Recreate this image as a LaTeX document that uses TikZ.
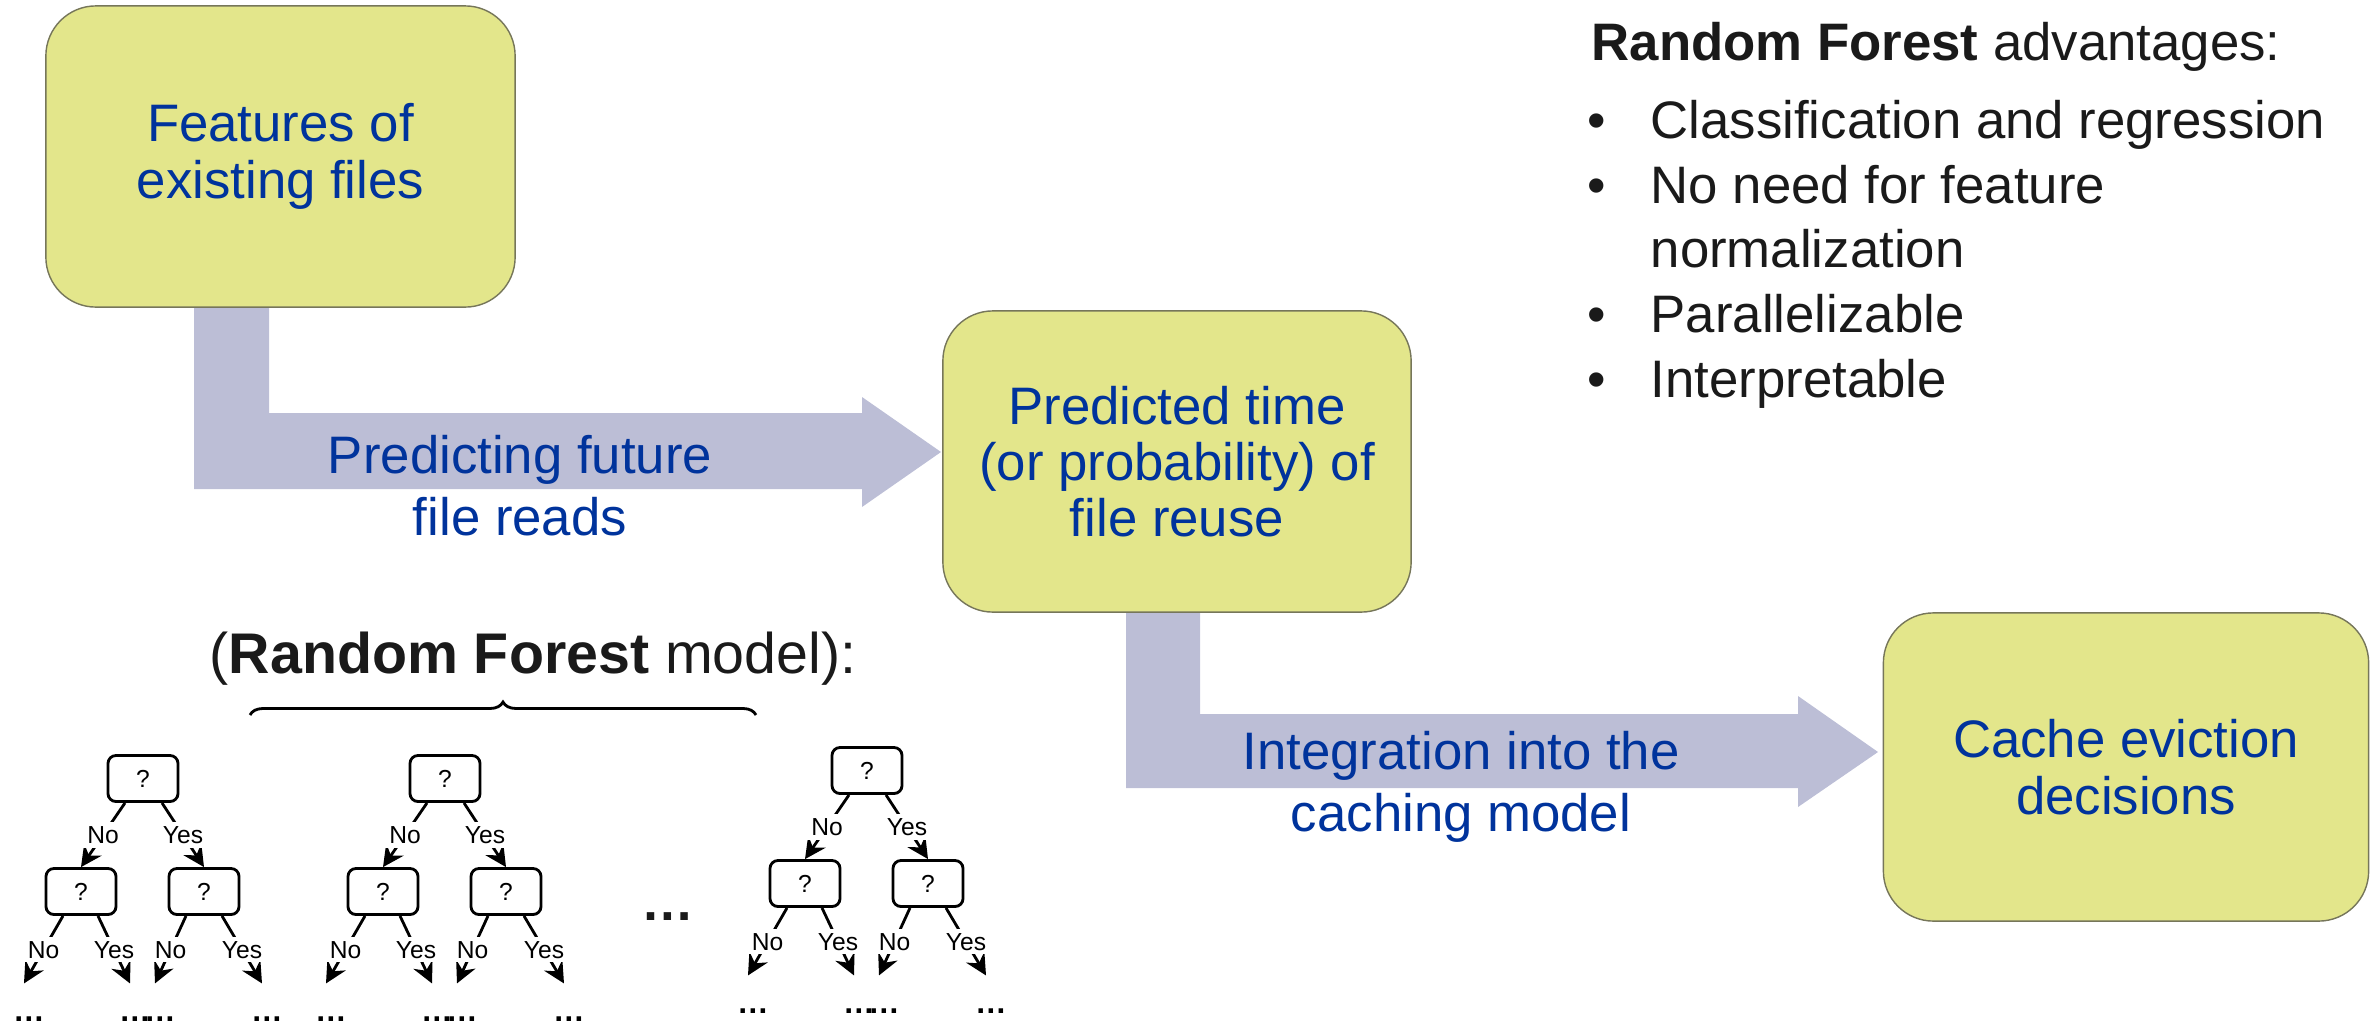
\documentclass[tikz,border=0pt]{standalone}
\usepackage{fontspec}
\setmainfont{Liberation Sans}
\usetikzlibrary{arrows.meta,decorations.pathreplacing,calc}
\definecolor{boxfill}{HTML}{E3E68B}
\definecolor{boxline}{HTML}{76765A}
\definecolor{arrowfill}{HTML}{BCBED6}
\definecolor{bluetext}{HTML}{00339C}
\definecolor{darktext}{HTML}{1A1A1A}
\begin{document}
\begin{tikzpicture}[x=0.01cm,y=-0.01cm,
  bigbox/.style={draw=boxline, line width=0.4pt, fill=boxfill, rounded corners=0.5cm,
    text=bluetext, align=center, font=\fontsize{15}{16}\selectfont, inner sep=0pt},
  arrowlabel/.style={text=bluetext, align=center, font=\fontsize{15}{17.6}\selectfont, inner sep=0pt},
  blockarrow/.style={fill=arrowfill, draw=none},
  plaintext/.style={text=darktext, font=\fontsize{15}{16}\selectfont, inner sep=0pt},
  qbox/.style={draw, line width=0.8pt, rounded corners=0.08cm, minimum width=0.70cm,
    minimum height=0.46cm, inner sep=0pt, font=\fontsize{7}{8}\selectfont},
  yn/.style={fill=white, inner sep=1.2pt, font=\fontsize{7}{8}\selectfont},
  tedge/.style={line width=0.8pt, -{Stealth[length=6pt,width=6pt,inset=2pt]}},
  leafdots/.style={anchor=base, inner sep=0pt, font=\fontsize{9}{10}\selectfont\bfseries}
]
\useasboundingbox (0,0) rectangle (2379,1027);

% block arrows (drawn first, under the boxes)
\fill[blockarrow] (194,300) -- (194,489) -- (862,489) -- (862,507) -- (941,452)
  -- (862,397) -- (862,413) -- (269,413) -- (269,300) -- cycle;
\fill[blockarrow] (1126,605) -- (1126,788) -- (1798,788) -- (1798,807) -- (1878,752)
  -- (1798,696) -- (1798,714) -- (1200,714) -- (1200,605) -- cycle;

% boxes
\node[bigbox, minimum width=4.69cm, minimum height=3.01cm] (b1) at (280.5,156.5) {Features of\\existing files};
\node[bigbox, minimum width=4.68cm, minimum height=3.01cm] (b2) at (1177,461.5) {Predicted time\\(or probability) of\\file reuse};
\node[bigbox, minimum width=4.85cm, minimum height=3.08cm] (b3) at (2126,767) {Cache eviction\\decisions};

% arrow labels
\node[arrowlabel] (l1) at (520,486) {Predicting future\\file reads};
\node[arrowlabel] (l2) at (1461,787) {Integration into the\\caching model};

% advantages list
\node[plaintext, anchor=base west] (adv) at (1591,60) {\textbf{Random Forest} advantages:};
\foreach \y/\txt [count=\i] in {138/Classification and regression, 203/No need for feature, 332/Parallelizable, 397/Interpretable}{
  \node[plaintext, anchor=base] (bul\i) at (1597,\y) {•};
  \node[plaintext, anchor=base west] (item\i) at (1650,\y) {\txt};
}
\node[plaintext, anchor=base west] (item2b) at (1650,267) {normalization};

% random forest caption and brace
\node[plaintext, anchor=base, font=\fontsize{16.3}{17}\selectfont] (rfm) at (533,673) {(\textbf{Random Forest} model):};
\coordinate (brl) at (250,715);
\coordinate (brr) at (756,715);
\draw[line width=0.8pt, decorate, decoration={brace, amplitude=3.7pt}] (brl) -- (brr);

% trees
\foreach \t/\dx/\dy in {1/0/0, 2/302/0, 3/724/-8}{
  \begin{scope}[shift={(\dx,\dy)}]
    \node[qbox] (t\t r) at (143,778.5) {?};
    \node[qbox] (t\t a) at (81,891.5) {?};
    \node[qbox] (t\t b) at (204,891.5) {?};
    \draw[tedge] ($(t\t r.south)+(-18,0)$) -- node[yn]{No} (t\t a.north);
    \draw[tedge] ($(t\t r.south)+(19,0)$) -- node[yn]{Yes} (t\t b.north);
    \coordinate (t\t l1) at ($(t\t a.south)+(-57,67.5)$);
    \coordinate (t\t l2) at ($(t\t a.south)+(49,67.5)$);
    \coordinate (t\t l3) at ($(t\t b.south)+(-49,67.5)$);
    \coordinate (t\t l4) at ($(t\t b.south)+(58,67.5)$);
    \draw[tedge] ($(t\t a.south)+(-18,0)$) -- node[yn]{No} (t\t l1);
    \draw[tedge] ($(t\t a.south)+(17,0)$) -- node[yn]{Yes} (t\t l2);
    \draw[tedge] ($(t\t b.south)+(-18,0)$) -- node[yn]{No} (t\t l3);
    \draw[tedge] ($(t\t b.south)+(18,0)$) -- node[yn]{Yes} (t\t l4);
    \foreach \k in {1,2,3,4}{
      \node[leafdots] (t\t d\k) at ($(t\t l\k)+(5,38)$) {…};
    }
  \end{scope}
}
\node[plaintext, anchor=base, font=\fontsize{15}{16}\selectfont\bfseries] (bigdots) at (668,920) {…};
\end{tikzpicture}
\end{document}
